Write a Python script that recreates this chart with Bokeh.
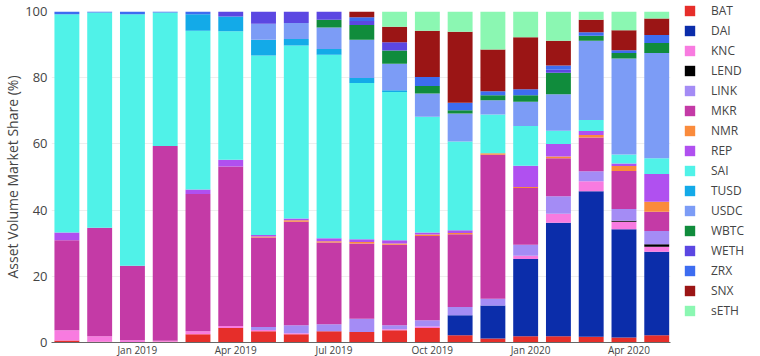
from bokeh.plotting import figure
from bokeh.models import ColumnDataSource, Legend, LegendItem, FixedTicker, Range1d
from bokeh.embed import file_html
from bokeh.resources import INLINE

months = ["Nov 2018", "Dec 2018", "Jan 2019", "Feb 2019", "Mar 2019", "Apr 2019",
          "May 2019", "Jun 2019", "Jul 2019", "Aug 2019", "Sep 2019", "Oct 2019",
          "Nov 2019", "Dec 2019", "Jan 2020", "Feb 2020", "Mar 2020", "Apr 2020",
          "May 2020"]

BAT = [0.6, 0.2, 0.1, 0.2, 2.5, 4.4, 3.4, 2.5, 3.4, 3.2, 3.7, 4.4, 2.2, 1.2, 1.9, 1.9, 1.7, 1.5, 2.2]
DAI = [0, 0, 0, 0, 0, 0, 0, 0, 0, 0, 0, 0, 6.0, 10.0, 23.3, 34.3, 44.0, 32.7, 25.2]
KNC = [3.1, 1.7, 0.6, 0.3, 0.9, 0.6, 0.4, 0.3, 0, 0, 0.3, 0.4, 0, 0, 1.0, 2.7, 3.0, 2.3, 1.5]
LEND = [0, 0, 0, 0, 0, 0, 0, 0, 0, 0, 0, 0, 0, 0, 0, 0, 0, 0.3, 0.8]
LINK = [0, 0, 0, 0, 0, 0, 0.9, 2.4, 2.1, 4.0, 1.2, 1.9, 2.5, 2.0, 3.3, 5.3, 3.0, 3.5, 4.0]
MKR = [27.2, 32.8, 22.5, 58.9, 41.5, 48.2, 27.0, 31.3, 24.7, 22.7, 24.3, 25.5, 22.0, 43.5, 17.2, 11.5, 10.2, 11.5, 5.8]
NMR = [0, 0, 0, 0, 0, 0, 0.3, 0.4, 0.4, 0.5, 0.4, 0.4, 0.4, 0.5, 0.3, 0.5, 0.8, 1.5, 3.0]
REP = [2.3, 0, 0, 0, 1.3, 2.0, 0.5, 0.6, 0.9, 0.8, 1.0, 0.6, 0.8, 0, 6.4, 3.8, 1.2, 0.8, 8.4]
SAI = [66.0, 65.0, 76.0, 40.3, 48.0, 38.8, 54.2, 52.2, 55.4, 47.2, 44.8, 35.0, 26.8, 11.7, 12.0, 4.0, 3.3, 2.7, 4.8]
TUSD = [0, 0, 0, 0, 5.0, 4.5, 4.8, 2.0, 1.8, 1.5, 0.5, 0, 0, 0, 0, 0, 0, 0, 0]
USDC = [0, 0, 0, 0, 0, 0, 4.8, 4.8, 6.5, 11.6, 8.0, 7.0, 8.5, 4.3, 7.3, 11.0, 24.0, 29.0, 31.8]
WBTC = [0, 0, 0, 0, 0, 0, 0, 0, 2.3, 4.4, 4.0, 2.3, 1.0, 1.5, 2.0, 6.5, 1.5, 1.7, 3.0]
WETH = [0, 0, 0, 0, 0, 1.5, 3.7, 3.5, 2.5, 1.2, 2.5, 0, 0, 0, 0, 0.9, 0, 0, 0]
ZRX = [0.8, 0.3, 0.8, 0.3, 0.8, 0, 0, 0, 0, 1.2, 0, 2.7, 2.2, 1.2, 1.8, 1.3, 1.0, 0.8, 2.4]
SNX = [0, 0, 0, 0, 0, 0, 0, 0, 0, 1.7, 4.7, 14.0, 21.5, 12.6, 15.7, 7.5, 3.8, 6.0, 5.0]
sETH = [0, 0, 0, 0, 0, 0, 0, 0, 0, 0, 4.6, 5.8, 6.1, 11.5, 7.8, 8.8, 2.5, 5.7, 2.1]

series = ["BAT", "DAI", "KNC", "LEND", "LINK", "MKR", "NMR", "REP", "SAI",
          "TUSD", "USDC", "WBTC", "WETH", "ZRX", "SNX", "sETH"]
values = [BAT, DAI, KNC, LEND, LINK, MKR, NMR, REP, SAI, TUSD, USDC, WBTC, WETH, ZRX, SNX, sETH]
colors = ["#E62E2A", "#0B2DAA", "#F87BE0", "#000000", "#A48CF5", "#C43AA6",
          "#FA8B3C", "#B050F0", "#50F2E8", "#13AAE8", "#7C9CF6", "#108C3C",
          "#5B47E2", "#3D6CF0", "#9B1515", "#8BF7B2"]

tick_months = ["Jan 2019", "Apr 2019", "Jul 2019", "Oct 2019", "Jan 2020", "Apr 2020"]

data = {"x": list(range(len(months))), "month": months}
for name, vals in zip(series, values):
    data[name] = vals
src = ColumnDataSource(data)

p = figure(frame_width=619, frame_height=331, output_backend="svg", toolbar_location=None,
           x_range=Range1d(-0.47, 18.42), y_range=Range1d(0, 100),
           min_border_left=0, min_border_top=11, min_border_bottom=0,
           min_border_right=0)

rs = p.vbar_stack(series, x="x", width=0.76, fill_color=colors, line_color=None, source=src)

ticks = []
overrides = {}
for m in tick_months:
    t = months.index(m) + 0.15
    ticks.append(t)
    overrides[t] = m
p.xaxis.ticker = FixedTicker(ticks=ticks)
p.xaxis.major_label_overrides = overrides
p.xaxis.major_label_text_font_size = "10px"
p.xaxis.major_label_text_color = "#444444"
p.xaxis.major_label_text_font = "Open Sans"
p.xaxis.major_label_standoff = 0
p.xaxis.major_tick_out = 0
p.xaxis.major_tick_in = 0
p.xaxis.major_tick_line_color = None
p.xaxis.minor_tick_line_color = None
p.xaxis.axis_line_color = "#666666"

p.yaxis.ticker = FixedTicker(ticks=[0, 20, 40, 60, 80, 100])
p.yaxis.axis_label = "Asset Volume Market Share (%)"
p.yaxis.axis_label_text_font = "Open Sans"
p.yaxis.axis_label_text_font_style = "normal"
p.yaxis.axis_label_text_font_size = "14px"
p.yaxis.axis_label_text_color = "#444444"
p.yaxis.axis_label_standoff = 0
p.yaxis.major_label_text_font = "Open Sans"
p.yaxis.major_label_text_font_size = "13px"
p.yaxis.major_label_text_color = "#444444"
p.yaxis.major_label_standoff = 4
p.yaxis.major_tick_out = 0
p.yaxis.major_tick_in = 0
p.yaxis.axis_line_color = None
p.yaxis.major_tick_line_color = None
p.yaxis.minor_tick_line_color = None

p.xgrid.grid_line_color = None
p.ygrid.grid_line_color = "#eeeeee"
p.outline_line_color = None

items = [LegendItem(label=s, renderers=[r]) for s, r in zip(series, rs)]
legend = Legend(items=items, location=(13, 22), glyph_width=13, glyph_height=13,
                label_height=20, spacing=0, padding=0, margin=0, label_standoff=15,
                label_text_font="Open Sans", label_text_font_size="12px",
                label_text_color="#444444", border_line_color=None,
                background_fill_alpha=0)
p.add_layout(legend, "right")

open("out.html", "w").write(file_html(p, INLINE))
